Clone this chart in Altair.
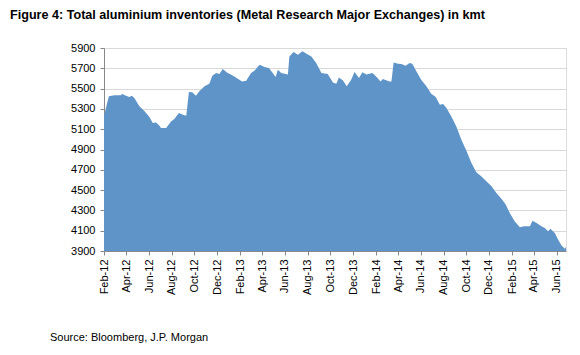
import altair as alt
import pandas as pd

dates = [
    "2012-02-01", "2012-02-14", "2012-02-29", "2012-03-18", "2012-03-20", "2012-03-31",
    "2012-04-09", "2012-04-16", "2012-04-23", "2012-05-06", "2012-05-11", "2012-05-20",
    "2012-06-02", "2012-06-11", "2012-06-20", "2012-06-29", "2012-07-03", "2012-07-17",
    "2012-07-30", "2012-08-08", "2012-08-20", "2012-08-31", "2012-09-09", "2012-09-16",
    "2012-09-25", "2012-10-05", "2012-10-14", "2012-10-28", "2012-11-10", "2012-11-18",
    "2012-11-28", "2012-12-07", "2012-12-16", "2012-12-29", "2013-01-03", "2013-01-16",
    "2013-02-06", "2013-02-17", "2013-03-02", "2013-03-11", "2013-03-25", "2013-04-07",
    "2013-04-19", "2013-04-29", "2013-05-07", "2013-05-13", "2013-05-22", "2013-06-09",
    "2013-06-13", "2013-06-24", "2013-07-06", "2013-07-18", "2013-07-29", "2013-08-11",
    "2013-08-24", "2013-09-07", "2013-09-24", "2013-10-08", "2013-10-17", "2013-10-24",
    "2013-11-04", "2013-11-14", "2013-11-26", "2013-12-05", "2013-12-17", "2013-12-26",
    "2014-01-06", "2014-01-22", "2014-02-01", "2014-02-13", "2014-02-19", "2014-03-09",
    "2014-03-14", "2014-03-20", "2014-04-01", "2014-04-10", "2014-04-21", "2014-05-02",
    "2014-05-09", "2014-05-20", "2014-06-02", "2014-06-16", "2014-06-29", "2014-07-11",
    "2014-07-22", "2014-07-31", "2014-08-09", "2014-08-22", "2014-09-05", "2014-09-18",
    "2014-10-02", "2014-10-15", "2014-10-28", "2014-11-11", "2014-11-24", "2014-12-08",
    "2014-12-21", "2015-01-04", "2015-01-15", "2015-01-26", "2015-02-08", "2015-02-22",
    "2015-03-05", "2015-03-21", "2015-03-28", "2015-04-08", "2015-04-21", "2015-04-30",
    "2015-05-09", "2015-05-15", "2015-05-27", "2015-06-05", "2015-06-14", "2015-06-23",
    "2015-06-26",
]
values = [
    5230, 5425, 5435, 5435, 5450, 5430,
    5418, 5430, 5405, 5325, 5310, 5276,
    5220, 5161, 5167, 5135, 5112, 5112,
    5177, 5200, 5260, 5243, 5233, 5467,
    5463, 5430, 5473, 5522, 5548, 5627,
    5653, 5643, 5693, 5653, 5647, 5620,
    5571, 5578, 5653, 5676, 5735, 5713,
    5703, 5653, 5614, 5686, 5653, 5640,
    5817, 5860, 5834, 5867, 5844, 5817,
    5752, 5653, 5643, 5561, 5548, 5610,
    5581, 5522, 5588, 5664, 5604, 5660,
    5640, 5653, 5620, 5571, 5595, 5571,
    5571, 5758, 5745, 5742, 5726, 5752,
    5745, 5670, 5588, 5522, 5450, 5417,
    5341, 5348, 5309, 5226, 5122, 4997,
    4882, 4767, 4675, 4635, 4586, 4537,
    4472, 4413, 4357, 4275, 4192, 4133,
    4143, 4143, 4199, 4176, 4143, 4127,
    4094, 4120, 4078, 4012, 3953, 3923,
    3940,
]
y_ticks = [3900, 4100, 4300, 4500, 4700, 4900, 5100, 5300, 5500, 5700, 5900]
x_tick_months = [
    (2012, 2), (2012, 4), (2012, 6), (2012, 8), (2012, 10), (2012, 12),
    (2013, 2), (2013, 4), (2013, 6), (2013, 8), (2013, 10), (2013, 12),
    (2014, 2), (2014, 4), (2014, 6), (2014, 8), (2014, 10), (2014, 12),
    (2015, 2), (2015, 4), (2015, 6),
]
title_text = "Figure 4: Total aluminium inventories (Metal Research Major Exchanges) in kmt"
source_text = "Source: Bloomberg, J.P. Morgan"

FONT = "Liberation Sans, Arial, sans-serif"

df = pd.DataFrame({"date": dates, "value": values})

x_vals = [alt.DateTime(year=y, month=m, date=1, utc=True) for y, m in x_tick_months]

area = alt.Chart(df).mark_area(color="#5F94C9", clip=True, interpolate="linear").encode(
    x=alt.X(
        "date:T",
        scale=alt.Scale(
            type="utc",
            domain=[
                alt.DateTime(year=2012, month=2, date=1, utc=True),
                alt.DateTime(year=2015, month=6, date=26, utc=True),
            ],
            nice=False,
        ),
        axis=alt.Axis(
            values=x_vals,
            labelExpr="utcFormat(datum.value, '%b-%y')",
            labelAngle=270,
            labelFont=FONT,
            labelFontSize=11,
            labelColor="#000000",
            labelPadding=4,
            tickSize=4,
            tickColor="#888888",
            domainColor="#888888",
            grid=False,
            title=None,
            labelOverlap=False,
        ),
    ),
    y=alt.Y(
        "value:Q",
        scale=alt.Scale(domain=[3900, 5900], nice=False, zero=False),
        axis=alt.Axis(
            values=y_ticks,
            format="d",
            labelFont=FONT,
            labelFontSize=11,
            labelColor="#000000",
            labelPadding=5,
            tickSize=4,
            tickColor="#888888",
            domainColor="#888888",
            gridColor="#D9D9D9",
            gridWidth=1,
            title=None,
        ),
    ),
)

title = alt.Chart(pd.DataFrame({"t": [title_text]})).mark_text(
    align="left", baseline="alphabetic", font=FONT, fontSize=12.6, fontWeight="bold", color="#000000"
).encode(x=alt.value(-94), y=alt.value(-29), text="t:N")

source = alt.Chart(pd.DataFrame({"t": [source_text]})).mark_text(
    align="left", baseline="alphabetic", font=FONT, fontSize=11, color="#000000"
).encode(x=alt.value(-54), y=alt.value(292.5), text="t:N")

chart = alt.layer(area, title, source).properties(
    width=462,
    height=203,
    autosize=alt.AutoSizeParams(type="none"),
    padding={"left": 104, "top": 48, "right": 14, "bottom": 104},
).configure_view(stroke=None).configure(background="white")

chart.save("out.html", embed_options={"renderer": "svg", "actions": False})
